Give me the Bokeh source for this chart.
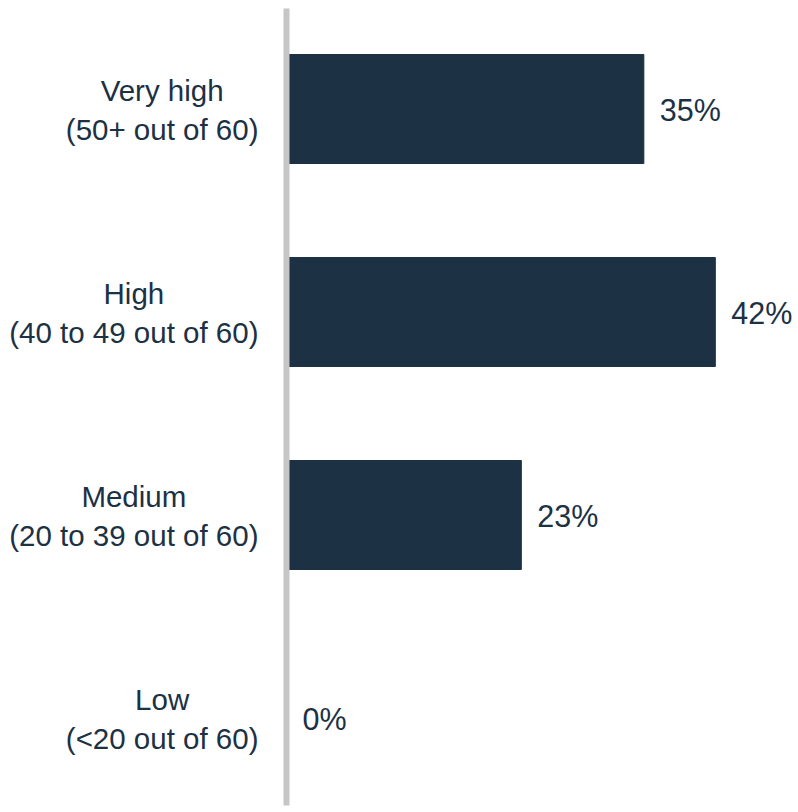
from bokeh.plotting import figure
from bokeh.models import Range1d, ColumnDataSource
from bokeh.core.properties import value
from bokeh.embed import file_html
from bokeh.resources import INLINE

# ---- data ----
categories = ["Very high", "High", "Medium", "Low"]
score_ranges = ["(50+ out of 60)", "(40 to 49 out of 60)", "(20 to 39 out of 60)", "(<20 out of 60)"]
values = [35, 42, 23, 0]
value_labels = ["35%", "42%", "23%", "0%"]

# ---- style ----
NAVY = "#1c3144"
GREY = "#c6c6c6"
FONT = "Liberation Sans"
CAT_SIZE = 29.5
VAL_SIZE = 30.5

# approximate Arial / Liberation Sans advance widths (per 1000 em)
ARIAL = {" ": 278, "(": 333, ")": 333, "+": 584, "<": 584, "%": 889,
         "V": 667, "H": 722, "M": 833, "L": 556,
         "e": 556, "r": 333, "y": 500, "h": 556, "i": 222, "g": 556,
         "d": 556, "m": 833, "o": 556, "u": 556, "t": 278, "f": 278, "w": 722}
def text_width(s, size):
    return sum(ARIAL.get(c, 556) for c in s) * size / 1000.0

W, H = 798, 812
px_per_pct = 10.21
axis_px = 286
row_px = 203
first_center = 108.5
bar_px = 109
label_gap = 28

ys = list(range(len(categories)))
cat_text = [f"{c}\n{r}" for c, r in zip(categories, score_ranges)]
cat_offset = [-label_gap - max(text_width(c, CAT_SIZE), text_width(r, CAT_SIZE)) / 2
              for c, r in zip(categories, score_ranges)]

src = ColumnDataSource(dict(y=ys, v=values, vl=value_labels, ct=cat_text, co=cat_offset,
                            zero=[0] * len(ys)))

p = figure(width=W, height=H, output_backend="svg", toolbar_location=None,
           x_range=Range1d(-axis_px / px_per_pct, (W - axis_px) / px_per_pct),
           y_range=Range1d((H - first_center) / row_px, -first_center / row_px),
           x_axis_type=None, y_axis_type=None, min_border=0)
p.outline_line_color = None
p.grid.visible = False
p.background_fill_color = "white"

p.hbar(y="y", left="zero", right="v", height=bar_px / row_px, source=src,
       fill_color=NAVY, line_color=NAVY)

# vertical axis line
p.segment(x0=[0], y0=[(8 - first_center) / row_px], x1=[0], y1=[(805 - first_center) / row_px],
          line_color=GREY, line_width=6)

p.text(x="zero", y="y", text="ct", x_offset="co", y_offset=1, source=src,
       text_align="center", text_baseline="middle", text_color=NAVY,
       text_font=value(FONT), text_font_size=f"{CAT_SIZE}px", text_line_height=1.17)

p.text(x="v", y="y", text="vl", x_offset=16, y_offset=1, source=src,
       text_align="left", text_baseline="middle", text_color=NAVY,
       text_font=value(FONT), text_font_size=f"{VAL_SIZE}px")

open("out.html", "w").write(file_html(p, INLINE))
